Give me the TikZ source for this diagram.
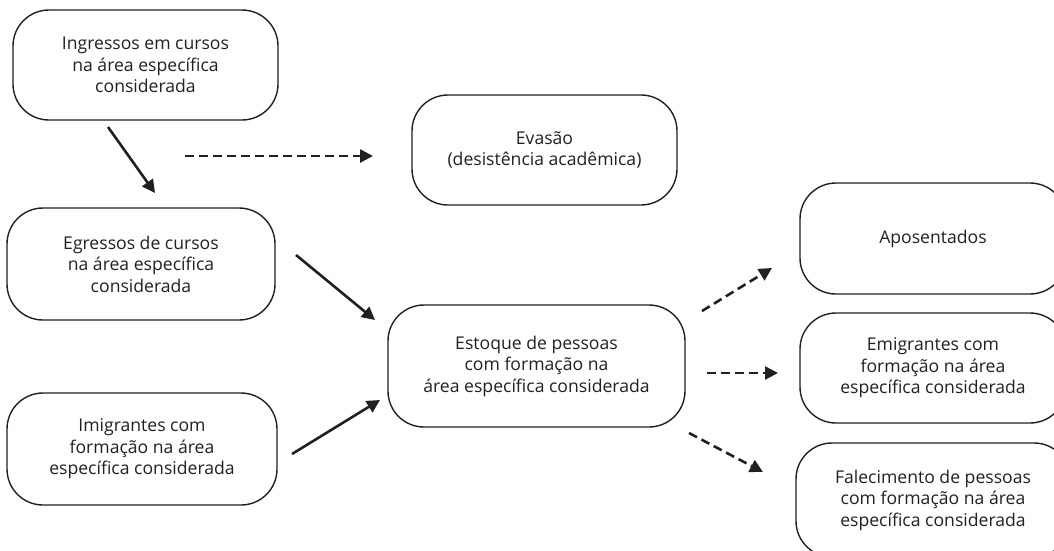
\documentclass[tikz,border=0pt]{standalone}
\usepackage{fontspec}
\setmainfont{Open Sans}
\usetikzlibrary{arrows.meta}
\definecolor{ink}{HTML}{231F20}
\begin{document}
\begin{tikzpicture}[x=1pt,y=-1pt,
  box/.style={draw=ink, text=ink, rounded corners=36pt, line width=1.4pt, align=center,
    inner sep=0pt, font=\fontsize{17.6}{21.5}\selectfont},
  flow/.style={draw=ink, line width=2.6pt, -{Triangle[length=13pt,width=13pt]}},
  loss/.style={flow, dash pattern=on 9pt off 5pt}]
\useasboundingbox (0,0) rectangle (1054,550);
\clip (0,0) rectangle (1054,550);

\node[box, minimum width=265pt, minimum height=110pt] (ing) at (145.5,65)
  {Ingressos em cursos\\na área específica\\considerada};
\node[box, minimum width=265pt, minimum height=110pt] (eva) at (544.5,150)
  {Evasão\\(desistência acadêmica)};
\node[box, minimum width=268pt, minimum height=112pt] (egr) at (141,264)
  {Egressos de cursos\\na área específica\\considerada};
\node[box, minimum width=297pt, minimum height=122pt] (est) at (536.5,366)
  {Estoque de pessoas\\com formação na\\área específica considerada};
\node[box, minimum width=270pt, minimum height=112pt] (imi) at (142,449)
  {Imigrantes com\\formação na área\\específica considerada};
\node[box, minimum width=266pt, minimum height=111pt] (apo) at (933,238.5)
  {Aposentados};
\node[box, minimum width=266pt, minimum height=110pt] (emi) at (933,368)
  {Emigrantes com\\formação na área\\específica considerada};
\node[box, minimum width=274pt, minimum height=114pt] (fal) at (933,500)
  {Falecimento de pessoas\\com formação na área\\específica considerada};

\coordinate (a1s) at (108,127);  \coordinate (a1e) at (155,193);
\coordinate (a2s) at (185,156);  \coordinate (a2e) at (373,156);
\coordinate (a3s) at (296,255);  \coordinate (a3e) at (375,320);
\coordinate (a4s) at (292,454);  \coordinate (a4e) at (380,400);
\coordinate (a5s) at (702,311);  \coordinate (a5e) at (772,268);
\coordinate (a6s) at (707,373);  \coordinate (a6e) at (778,373);
\coordinate (a7s) at (689,433);  \coordinate (a7e) at (763,472);

\draw[flow] (a1s) -- (a1e);
\draw[loss] (a2s) -- (a2e);
\draw[flow] (a3s) -- (a3e);
\draw[flow] (a4s) -- (a4e);
\draw[loss] (a5s) -- (a5e);
\draw[loss] (a6s) -- (a6e);
\draw[loss] (a7s) -- (a7e);
\end{tikzpicture}
\end{document}
